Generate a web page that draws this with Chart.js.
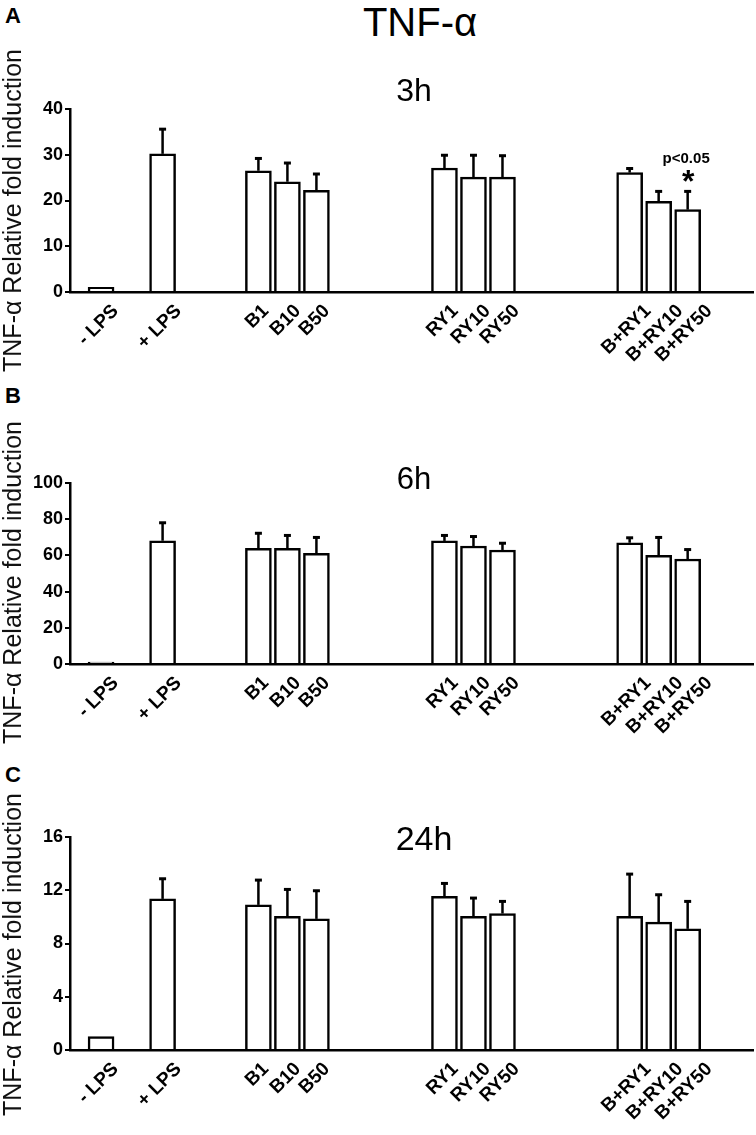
<!DOCTYPE html>
<html>
<head>
<meta charset="utf-8">
<script src="https://cdn.jsdelivr.net/npm/chart.js@4.4.1/dist/chart.umd.min.js"></script>
<style>
html,body{margin:0;padding:0;background:#fff;}
#page{position:relative;width:756px;height:1135px;overflow:hidden;font-family:"Liberation Sans",Arial,sans-serif;color:#000;}
canvas{position:absolute;left:0;}
.hdr{position:absolute;left:320px;width:200px;top:2px;text-align:center;font-size:40px;line-height:40px;}
.lt{position:absolute;left:5px;font-weight:bold;font-size:22px;line-height:22px;}
</style>
</head>
<body>
<div id="page">
  <div class="hdr">TNF-α</div>
  <div class="lt" style="top:5px">A</div>
  <div class="lt" style="top:385px">B</div>
  <div class="lt" style="top:764px">C</div>
  <canvas id="cA" width="756" height="375" style="top:0px;width:756px;height:375px"></canvas>
  <canvas id="cB" width="756" height="375" style="top:375px;width:756px;height:375px"></canvas>
  <canvas id="cC" width="756" height="385" style="top:750px;width:756px;height:385px"></canvas>
</div>
<script>
// ---------- data ----------
const categories = ['- LPS', '+ LPS', 'B1', 'B10', 'B50', 'RY1', 'RY10', 'RY50', 'B+RY1', 'B+RY10', 'B+RY50'];
const groupSizes = [1, 1, 3, 3, 3];
const yAxisTitle = 'TNF-α Relative fold induction';

const values3h = [1.0, 30.2, 26.5, 24.1, 22.2, 27.1, 25.1, 25.1, 26.1, 19.8, 18.0];
const err3h    = [0,   5.5,  2.8,  4.2,  3.7,  2.9,  4.9,  4.8,  1.0,  2.3,  4.1];
const yTicks3h = [0, 10, 20, 30, 40];

const values6h = [1.0, 68.1, 63.9, 63.9, 61.2, 68.0, 65.2, 63.0, 67.0, 60.0, 58.0];
const err6h    = [0,   10.2, 8.6,  7.4,  9.0,  3.3,  5.5,  4.0,  3.0,  10.2, 5.5];
const yTicks6h = [0, 20, 40, 60, 80, 100];

const values24h = [1.0, 11.35, 10.9, 10.05, 9.85, 11.55, 10.05, 10.25, 10.05, 9.6, 9.1];
const err24h    = [0,   1.55,  1.9,  2.05,  2.15, 1.0,   1.4,   0.95,  3.2,   2.1, 2.1];
const yTicks24h = [0, 4, 8, 12, 16];

// ---------- layout ----------
const FONT = '"Liberation Sans", Arial, sans-serif';
const groupStart = [1.06, 3.16, 6.43, 12.78, 19.1]; // group positions in bar-slot units
const groupStep = 0.99;
const xMax = 23.31;
const plotW = 683;
const slotPx = plotW / xMax;
const yTickFont = { family: FONT, size: 18, weight: 'bold' };
const xTickFont = { family: FONT, size: 19, weight: 'bold' };

function barPositions() {
  const pos = [];
  groupSizes.forEach((n, g) => { for (let k = 0; k < n; k++) pos.push(groupStart[g] + k * groupStep); });
  return pos;
}
const positions = barPositions();

const mctx = document.createElement('canvas').getContext('2d');
mctx.font = 'bold 19px ' + FONT;
const labelAnchors = positions.map((p, i) => p + 0.3 * mctx.measureText(categories[i]).width / slotPx);

// ---------- plugins ----------
const errBars = {
  id: 'errBars',
  afterDatasetsDraw(chart, args, opts) {
    const ctx = chart.ctx, meta = chart.getDatasetMeta(0), ys = chart.scales.y;
    const data = chart.data.datasets[0].data;
    ctx.save();
    ctx.strokeStyle = '#000';
    meta.data.forEach((bar, i) => {
      const e = opts.errors[i];
      if (!e) return;
      const yTop = ys.getPixelForValue(data[i].y + e);
      ctx.lineWidth = 2.5;
      ctx.beginPath(); ctx.moveTo(bar.x, bar.y); ctx.lineTo(bar.x, yTop); ctx.stroke();
      ctx.lineWidth = 3;
      ctx.beginPath(); ctx.moveTo(bar.x - 3.5, yTop + 0.5); ctx.lineTo(bar.x + 3.5, yTop + 0.5); ctx.stroke();
    });
    ctx.restore();
  }
};

function drawCentered(ctx, text, font, cx, cy) {
  ctx.font = font;
  ctx.textAlign = 'center';
  ctx.textBaseline = 'alphabetic';
  const m = ctx.measureText(text);
  const base = cy + (m.actualBoundingBoxAscent - m.actualBoundingBoxDescent) / 2;
  ctx.fillText(text, cx, base);
}

const panelTitle = {
  id: 'panelTitle',
  afterDraw(chart, args, opts) {
    if (!opts.text) return;
    const ctx = chart.ctx, ca = chart.chartArea;
    ctx.save();
    ctx.fillStyle = '#000';
    drawCentered(ctx, opts.text, opts.size + 'px ' + FONT, (ca.left + ca.right) / 2 + opts.dx, ca.top - opts.dy);
    ctx.restore();
  }
};

// y-axis title, centred a little below the plot-area centre as in the figure
const yTitle = {
  id: 'yTitle',
  afterDraw(chart, args, opts) {
    const ctx = chart.ctx, ca = chart.chartArea;
    ctx.save();
    ctx.fillStyle = '#111';
    ctx.translate(11.5, (ca.top + ca.bottom) / 2 + opts.shift);
    ctx.rotate(-Math.PI / 2);
    drawCentered(ctx, opts.text, '25px ' + FONT, 0, 0);
    ctx.restore();
  }
};

const sigMark = {
  id: 'sigMark',
  afterDatasetsDraw(chart, args, opts) {
    if (opts.index == null) return;
    const ctx = chart.ctx, ys = chart.scales.y;
    const bar = chart.getDatasetMeta(0).data[opts.index];
    const d = chart.data.datasets[0].data[opts.index];
    const yTop = ys.getPixelForValue(d.y + opts.err);
    ctx.save();
    ctx.fillStyle = '#000';
    drawCentered(ctx, '*', 'bold 32px ' + FONT, bar.x + 0.5, yTop - 15);
    drawCentered(ctx, opts.label, 'bold 15px ' + FONT, bar.x - 1.5, yTop - 31);
    ctx.restore();
  }
};

// ---------- chart builder ----------
function makeChart(id, values, errors, yTicks, cfg) {
  const el = document.getElementById(id);
  return new Chart(el, {
    type: 'bar',
    data: {
      datasets: [{
        data: positions.map((x, i) => ({ x: x, y: values[i] })),
        backgroundColor: '#ffffff',
        borderColor: '#000000',
        borderWidth: 2.5,
        borderSkipped: 'start',
        barThickness: 26
      }]
    },
    options: {
      responsive: false,
      animation: false,
      devicePixelRatio: 1,
      layout: { padding: { top: cfg.areaTop, right: 3, bottom: 0, left: 0 } },
      plugins: {
        legend: { display: false },
        tooltip: { enabled: false },
        errBars: { errors: errors },
        panelTitle: cfg.title,
        yTitle: { text: yAxisTitle, shift: cfg.titleShift },
        sigMark: cfg.sig || {}
      },
      scales: {
        x: {
          type: 'linear',
          offset: false,
          min: 0,
          max: xMax,
          afterBuildTicks: s => { s.ticks = labelAnchors.map(v => ({ value: v })); },
          afterFit: s => { s.height = cfg.xAxisH; },
          grid: { display: false, drawTicks: false, offset: false },
          border: { display: true, color: '#000', width: 2.5 },
          ticks: {
            autoSkip: false,
            minRotation: 45,
            maxRotation: 45,
            padding: 8,
            color: '#000',
            font: xTickFont,
            callback: (v, i) => categories[i]
          }
        },
        y: {
          min: yTicks[0],
          max: yTicks[yTicks.length - 1],
          afterBuildTicks: s => { s.ticks = yTicks.map(v => ({ value: v })); },
          afterFit: s => { s.width = 70; },
          grid: { display: true, drawOnChartArea: false, drawTicks: true, tickLength: 5, color: '#000', lineWidth: 2 },
          border: { display: true, color: '#000', width: 2.5 },
          ticks: { padding: 2, color: '#000', font: yTickFont },
          title: { display: false }
        }
      }
    },
    plugins: [errBars, panelTitle, yTitle, sigMark]
  });
}

makeChart('cA', values3h, err3h, yTicks3h, {
  areaTop: 109, xAxisH: 83, titleShift: 10,
  title: { text: '3h', size: 32, dx: 2.5, dy: 20 },
  sig: { index: 10, err: err3h[10], label: 'p<0.05' }
});
makeChart('cB', values6h, err6h, yTicks6h, {
  areaTop: 108, xAxisH: 86, titleShift: 9,
  title: { text: '6h', size: 31, dx: 2.5, dy: 6 }
});
makeChart('cC', values24h, err24h, yTicks24h, {
  areaTop: 87, xAxisH: 85, titleShift: 11,
  title: { text: '24h', size: 34, dx: 12.5, dy: -1 }
});
</script>
</body>
</html>
